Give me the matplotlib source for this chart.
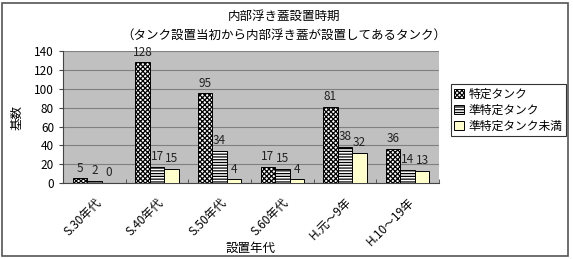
import matplotlib
matplotlib.use("Agg")
import matplotlib.pyplot as plt
import numpy as np
from matplotlib.patches import Rectangle

plt.rcParams['font.family'] = ['Noto Sans CJK JP', 'DejaVu Sans']
plt.rcParams['hatch.linewidth'] = 0.9

categories = ["S.30年代", "S.40年代", "S.50年代", "S.60年代", "H.元～9年", "H.10～19年"]
series_names = ["特定タンク", "準特定タンク", "準特定タンク未満"]
tokutei = [5, 128, 95, 17, 81, 36]
jun_tokutei = [2, 17, 34, 15, 38, 14]
jun_miman = [0, 15, 4, 4, 32, 13]
yticks = [0, 20, 40, 60, 80, 100, 120, 140]

fig = plt.figure(figsize=(5.73, 2.59), dpi=100)
fig.patch.set_facecolor('white')
fig.add_artist(Rectangle((0.004, 0.01), 0.988, 0.98, transform=fig.transFigure,
                         fill=False, edgecolor='#555555', linewidth=1.2))

ax = fig.add_axes([0.110, 0.293, 0.656, 0.510])
ax.set_facecolor('#C0C0C0')

x = np.arange(len(categories))
w = 0.23
styles = [dict(facecolor='white', hatch='xxxxxxx'),
          dict(facecolor='white', hatch='------'),
          dict(facecolor='#FFFFCC', hatch=None)]
data = [tokutei, jun_tokutei, jun_miman]
for i, (vals, st) in enumerate(zip(data, styles)):
    pos = x + (i - 1) * w
    ax.bar(pos, vals, width=w, edgecolor='black', linewidth=0.7,
           label=series_names[i], zorder=3, **st)
    for p, v in zip(pos, vals):
        ax.text(p, v + 4, str(v), ha='center', va='bottom', fontsize=8.5,
                color='#222222', zorder=4)

ax.set_xlim(-0.5, len(categories) - 0.5)
ax.set_ylim(0, 140)
ax.set_yticks(yticks)
ax.set_yticklabels([str(t) for t in yticks], fontsize=8.5)
ax.yaxis.grid(True, color='#808080', linewidth=0.8, zorder=0)
ax.set_axisbelow(True)
ax.set_xticks(x)
ax.set_xticklabels(categories, rotation=45, ha='right', va='top',
                   rotation_mode='anchor', fontsize=8.5)
ax.tick_params(axis='x', length=0, pad=9)
ax.set_xticks(np.arange(-0.5, len(categories) + 0.5, 1), minor=True)
ax.tick_params(axis='x', which='minor', length=3, direction='in', color='#444444')
ax.tick_params(axis='y', length=3, color='#444444')
for s in ['top', 'right']:
    ax.spines[s].set_visible(False)
ax.spines['left'].set_color('#444444')
ax.spines['bottom'].set_color('#444444')

ax.set_ylabel("基数", fontsize=9, labelpad=8)
fig.text(0.437, 0.040, "設置年代", ha='center', va='center', fontsize=9)

fig.text(0.495, 0.935, "内部浮き蓋設置時期", ha='center', va='center', fontsize=9)
fig.text(0.495, 0.865, "（タンク設置当初から内部浮き蓋が設置してあるタンク）",
         ha='center', va='center', fontsize=9)

leg = ax.legend(loc='upper left', bbox_to_anchor=(0.787, 0.675), bbox_transform=fig.transFigure,
                fontsize=8.5, frameon=True, fancybox=False, edgecolor='black',
                handlelength=0.8, handleheight=0.8, handletextpad=0.4,
                borderpad=0.3, labelspacing=0.25, borderaxespad=0)
leg.get_frame().set_linewidth(0.8)

fig.savefig("out.png", dpi=100)
